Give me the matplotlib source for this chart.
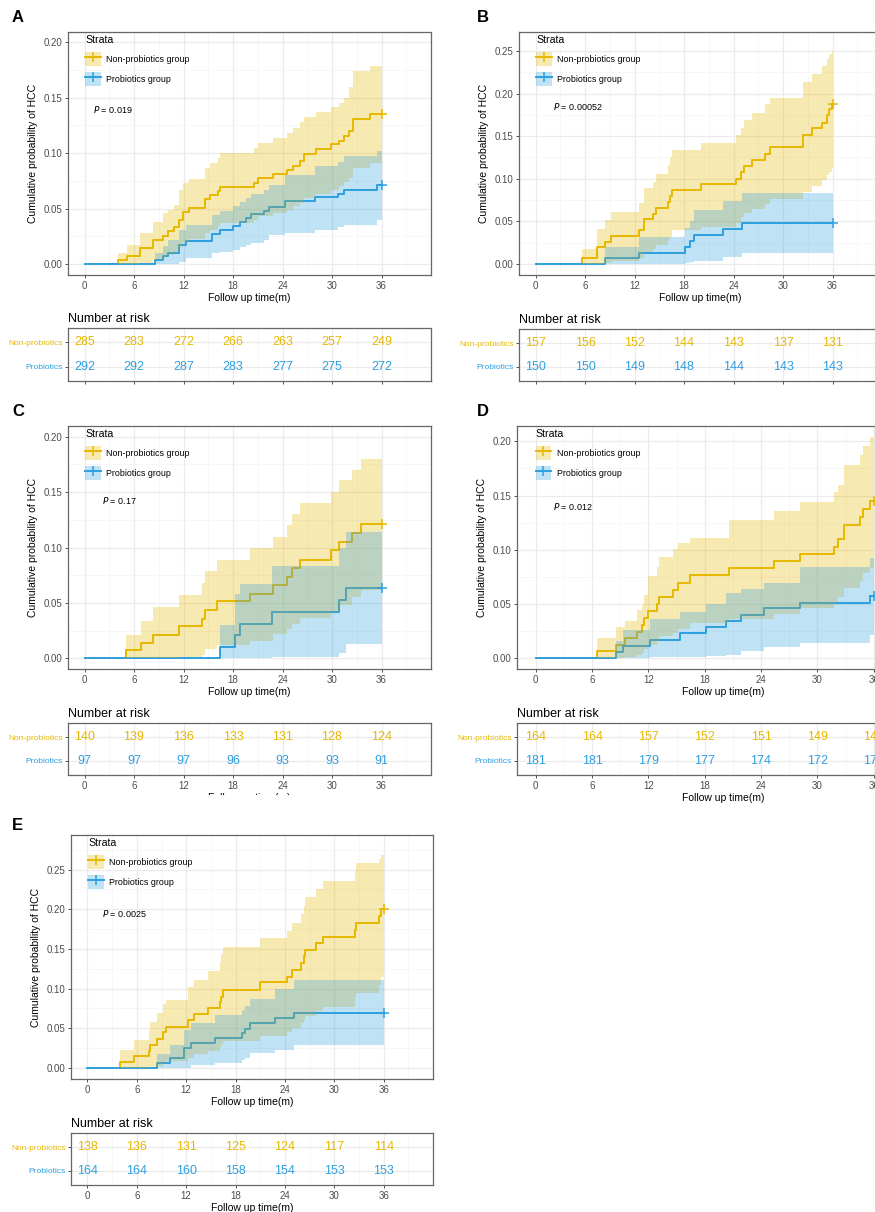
import numpy as np
import matplotlib.pyplot as plt
from matplotlib.patches import Patch, Rectangle
from matplotlib.lines import Line2D
from matplotlib.legend_handler import HandlerTuple

plt.rcParams['font.family'] = ['Liberation Sans', 'DejaVu Sans']

YEL = '#E7B800'
BLU = '#2E9FDF'

# ---------------- data ----------------
risk_times = [0, 6, 12, 18, 24, 30, 36]
groups = ['Non-probiotics group', 'Probiotics group']

# A
a_non_t = [4.0, 5.1, 6.7, 8.3, 9.5, 10.1, 10.9, 11.5, 11.9, 12.7, 14.6, 15.2, 16.2, 16.4, 20.6, 21.0,
           22.9, 24.5, 25.3, 26.1, 26.6, 28.1, 29.9, 30.9, 31.4, 32.0, 32.6, 34.6]
a_non_est = [0.0035, 0.0075, 0.0144, 0.0217, 0.0256, 0.0295, 0.0337, 0.040, 0.047, 0.0508, 0.0583, 0.0623,
             0.066, 0.0698, 0.0734, 0.0773, 0.0812, 0.0848, 0.0887, 0.0929, 0.0995, 0.1035, 0.108, 0.111,
             0.1155, 0.12, 0.131, 0.135]
a_non_hi = [0.0096, 0.017, 0.0277, 0.038, 0.0457, 0.049, 0.053, 0.0668, 0.0728, 0.0764, 0.0863, 0.0908,
            0.0953, 0.0998, 0.1044, 0.1089, 0.1134, 0.118, 0.1224, 0.128, 0.133, 0.1374, 0.1413, 0.145,
            0.150, 0.16, 0.1744, 0.179]
a_non_lo = [0, 0, 0.001, 0.004, 0.006, 0.008, 0.011, 0.015, 0.020, 0.023, 0.028, 0.031, 0.034, 0.037,
            0.040, 0.043, 0.046, 0.049, 0.052, 0.055, 0.060, 0.063, 0.067, 0.070, 0.074, 0.078, 0.087, 0.091]
a_pro_t = [8.5, 9.5, 10.1, 11.5, 12.3, 15.4, 16.4, 18.0, 18.8, 19.6, 20.2, 21.8, 22.4, 24.3, 27.9, 30.7,
           31.5, 35.4]
a_pro_est = [0.0034, 0.0069, 0.0103, 0.0172, 0.0206, 0.0275, 0.0309, 0.0344, 0.0378, 0.0413, 0.0447,
             0.0482, 0.0516, 0.0567, 0.0602, 0.0636, 0.0671, 0.0710]
a_pro_hi = [0.010, 0.016, 0.022, 0.031, 0.035, 0.044, 0.048, 0.052, 0.056, 0.060, 0.063, 0.067, 0.071,
            0.080, 0.088, 0.092, 0.097, 0.102]
a_pro_lo = [0, 0, 0, 0.002, 0.005, 0.0096, 0.011, 0.013, 0.015, 0.017, 0.019, 0.022, 0.026, 0.028,
            0.031, 0.033, 0.035, 0.040]
a_risk_non = [285, 283, 272, 266, 263, 257, 249]
a_risk_pro = [292, 292, 287, 283, 277, 275, 272]

# B
b_non_t = [5.6, 7.4, 8.4, 9.2, 12.6, 13.1, 14.3, 14.6, 16.1, 16.3, 16.5, 20.1, 24.3, 24.9, 25.3, 26.2,
           27.8, 28.4, 32.4, 33.5, 34.7, 35.3, 35.6, 35.9]
b_non_est = [0.0066, 0.0195, 0.026, 0.033, 0.040, 0.053, 0.059, 0.066, 0.073, 0.080, 0.087, 0.094, 0.100,
             0.108, 0.115, 0.122, 0.129, 0.137, 0.151, 0.159, 0.166, 0.175, 0.182, 0.188]
b_non_hi = [0.018, 0.041, 0.052, 0.061, 0.071, 0.089, 0.096, 0.106, 0.116, 0.125, 0.134, 0.142, 0.151,
            0.160, 0.169, 0.177, 0.1875, 0.195, 0.214, 0.223, 0.232, 0.241, 0.246, 0.25]
b_non_lo = [0, 0, 0.001, 0.004, 0.007, 0.014, 0.018, 0.022, 0.027, 0.032, 0.040, 0.044, 0.048, 0.055,
            0.060, 0.065, 0.070, 0.076, 0.084, 0.092, 0.098, 0.104, 0.108, 0.113]
b_pro_t = [8.4, 12.6, 18.1, 18.7, 19.2, 22.7, 25.0]
b_pro_est = [0.0067, 0.0134, 0.0201, 0.0268, 0.0336, 0.0410, 0.0484]
b_pro_hi = [0.0195, 0.032, 0.042, 0.050, 0.063, 0.074, 0.083]
b_pro_lo = [0, 0.0005, 0.001, 0.002, 0.004, 0.0086, 0.0125]
b_risk_non = [157, 156, 152, 144, 143, 137, 131]
b_risk_pro = [150, 150, 149, 148, 144, 143, 143]

# C
c_non_t = [5.0, 6.8, 8.3, 11.5, 14.3, 14.6, 16.1, 20.1, 22.9, 24.6, 25.1, 26.1, 29.9, 30.9, 32.4, 33.5]
c_non_est = [0.0072, 0.0142, 0.0214, 0.0289, 0.0358, 0.0434, 0.0515, 0.0584, 0.066, 0.0735, 0.0816,
             0.089, 0.0976, 0.105, 0.113, 0.121]
c_non_hi = [0.021, 0.034, 0.046, 0.057, 0.068, 0.0786, 0.089, 0.0997, 0.1096, 0.120, 0.130, 0.140,
            0.150, 0.161, 0.170, 0.180]
c_non_lo = [0, 0, 0, 0.001, 0.003, 0.008, 0.012, 0.016, 0.022, 0.026, 0.031, 0.036, 0.042, 0.048,
            0.055, 0.062]
c_pro_t = [16.4, 18.2, 18.8, 22.7, 30.9, 31.7]
c_pro_est = [0.0103, 0.0206, 0.031, 0.042, 0.0524, 0.0636]
c_pro_hi = [0.030, 0.058, 0.067, 0.083, 0.100, 0.114]
c_pro_lo = [0, 0, 0.0005, 0.001, 0.005, 0.0127]
c_risk_non = [140, 139, 136, 133, 131, 128, 124]
c_risk_pro = [97, 97, 97, 96, 93, 93, 91]

# D
d_non_t = [6.5, 8.6, 9.5, 10.8, 11.3, 11.5, 12.0, 12.9, 13.1, 14.6, 15.2, 16.4, 20.6, 25.4, 28.2, 31.8,
           32.2, 32.8, 34.5, 34.9, 35.6]
d_non_est = [0.0061, 0.0122, 0.0183, 0.0244, 0.0305, 0.0366, 0.0437, 0.050, 0.0566, 0.063, 0.0695,
             0.0766, 0.0828, 0.0895, 0.096, 0.1028, 0.1095, 0.123, 0.1305, 0.1375, 0.145]
d_non_hi = [0.018, 0.029, 0.034, 0.044, 0.049, 0.058, 0.0757, 0.084, 0.0935, 0.101, 0.106, 0.111, 0.127,
            0.136, 0.144, 0.153, 0.160, 0.178, 0.187, 0.196, 0.204]
d_non_lo = [0, 0, 0.001, 0.003, 0.005, 0.008, 0.012, 0.016, 0.020, 0.023, 0.027, 0.032, 0.036, 0.041,
            0.046, 0.051, 0.056, 0.065, 0.071, 0.078, 0.083]
d_pro_t = [8.6, 9.3, 12.2, 15.4, 18.1, 20.3, 21.9, 24.3, 28.1, 35.6]
d_pro_est = [0.0055, 0.011, 0.0166, 0.0228, 0.0283, 0.0345, 0.040, 0.0458, 0.051, 0.0575]
d_pro_hi = [0.016, 0.026, 0.036, 0.042, 0.050, 0.060, 0.064, 0.069, 0.084, 0.092]
d_pro_lo = [0, 0, 0.0005, 0.001, 0.0015, 0.003, 0.0065, 0.0105, 0.014, 0.021]
d_risk_non = [164, 164, 157, 152, 151, 149, 140]
d_risk_pro = [181, 181, 179, 177, 174, 172, 171]

# E
e_non_t = [4.0, 5.7, 7.5, 7.6, 8.4, 9.2, 9.5, 12.2, 13.0, 14.6, 16.1, 16.2, 16.5, 21.0, 24.3, 24.9, 26.0,
           26.3, 26.5, 27.8, 28.6, 32.5, 32.6, 35.4, 35.7]
e_non_est = [0.0072, 0.0145, 0.0217, 0.029, 0.0365, 0.045, 0.052, 0.060, 0.068, 0.0755, 0.0826, 0.090,
             0.0986, 0.1078, 0.115, 0.1237, 0.132, 0.1405, 0.149, 0.157, 0.1657, 0.174, 0.1825, 0.1917, 0.200]
e_non_hi = [0.022, 0.035, 0.048, 0.058, 0.069, 0.081, 0.085, 0.1015, 0.111, 0.1216, 0.133, 0.1434, 0.153,
            0.1636, 0.173, 0.183, 0.194, 0.204, 0.215, 0.2257, 0.236, 0.248, 0.258, 0.264, 0.268]
e_non_lo = [0, 0, 0, 0.001, 0.003, 0.006, 0.009, 0.013, 0.017, 0.021, 0.025, 0.029, 0.034, 0.040, 0.045,
            0.050, 0.056, 0.061, 0.066, 0.072, 0.077, 0.088, 0.094, 0.104, 0.115]
e_pro_t = [8.4, 10.0, 11.7, 12.6, 15.5, 18.8, 19.1, 19.7, 22.8, 25.1]
e_pro_est = [0.0061, 0.0126, 0.025, 0.0315, 0.0377, 0.044, 0.0495, 0.0566, 0.063, 0.0696]
e_pro_hi = [0.018, 0.029, 0.048, 0.057, 0.067, 0.073, 0.078, 0.087, 0.100, 0.111]
e_pro_lo = [0, 0, 0, 0.004, 0.006, 0.010, 0.013, 0.019, 0.022, 0.0285]
e_risk_non = [138, 136, 131, 125, 124, 117, 114]
e_risk_pro = [164, 164, 160, 158, 154, 153, 153]

pvals = {'A': '0.019', 'B': '0.00052', 'C': '0.17', 'D': '0.012', 'E': '0.0025'}

# ---------------- layout (pixels in a 875x1212 canvas) ----------------
W, H = 875, 1212

def box(l, t, r, b):
    return [l / W, 1 - b / H, (r - l) / W, (b - t) / H]

layout = [
    dict(key='A', letter=(12, 18), main=(68, 32, 431, 275), risk=(68, 328, 431, 381),
         ylim=(-0.0099, 0.2093), ymax=0.20, pv=(0.069, 0.68), ticklab=False, rlabel=False),
    dict(key='B', letter=(477, 18), main=(519, 32, 882, 275), risk=(519, 329, 882, 381),
         ylim=(-0.0129, 0.2722), ymax=0.25, pv=(0.094, 0.695), ticklab=False, rlabel=False),
    dict(key='C', letter=(12, 412), main=(68, 426, 431, 669), risk=(68, 723, 431, 775),
         ylim=(-0.0097, 0.2097), ymax=0.20, pv=(0.093, 0.692), ticklab=True, rlabel=True),
    dict(key='D', letter=(477, 412), main=(517, 426, 930, 669), risk=(517, 723, 930, 775),
         ylim=(-0.0102, 0.2142), ymax=0.20, pv=(0.086, 0.667), ticklab=True, rlabel=True),
    dict(key='E', letter=(12, 825), main=(71, 835, 433, 1079), risk=(71, 1133, 433, 1185),
         ylim=(-0.014, 0.2937), ymax=0.25, pv=(0.085, 0.68), ticklab=True, rlabel=True),
]

curves = {
    'A': ((a_non_t, a_non_est, a_non_lo, a_non_hi), (a_pro_t, a_pro_est, a_pro_lo, a_pro_hi), a_risk_non, a_risk_pro),
    'B': ((b_non_t, b_non_est, b_non_lo, b_non_hi), (b_pro_t, b_pro_est, b_pro_lo, b_pro_hi), b_risk_non, b_risk_pro),
    'C': ((c_non_t, c_non_est, c_non_lo, c_non_hi), (c_pro_t, c_pro_est, c_pro_lo, c_pro_hi), c_risk_non, c_risk_pro),
    'D': ((d_non_t, d_non_est, d_non_lo, d_non_hi), (d_pro_t, d_pro_est, d_pro_lo, d_pro_hi), d_risk_non, d_risk_pro),
    'E': ((e_non_t, e_non_est, e_non_lo, e_non_hi), (e_pro_t, e_pro_est, e_pro_lo, e_pro_hi), e_risk_non, e_risk_pro),
}


def base_style(ax):
    ax.set_xlim(-2, 42)
    ax.set_xticks(np.arange(0, 37, 6))
    ax.set_xticks(np.arange(3, 40, 6), minor=True)
    ax.grid(which='major', color='#EBEBEB', lw=0.9)
    ax.grid(which='minor', color='#F4F4F4', lw=0.5)
    ax.set_axisbelow(True)
    for s in ax.spines.values():
        s.set_color('#666666')
        s.set_linewidth(0.9)
    ax.tick_params(which='minor', length=0)
    ax.tick_params(which='major', length=2.5, width=0.6, color='#333333',
                   labelsize=7, labelcolor='#4D4D4D', pad=1.5)


def draw_curve(ax, t, est, lo, hi, color):
    tt = np.r_[0, t, 36]
    ee = np.r_[0, est, est[-1]]
    ll = np.r_[0, lo, lo[-1]]
    hh = np.r_[0, hi, hi[-1]]
    ax.step(tt, ee, where='post', color=color, lw=1.4, zorder=2)
    ax.fill_between(tt, ll, hh, step='post', color=color, alpha=0.3, lw=0, zorder=3)
    ax.plot([36], [est[-1]], marker='+', ms=7, mew=1.1, color=color, zorder=4)


fig = plt.figure(figsize=(8.75, 12.12), dpi=100)

for p in layout:
    k = p['key']
    non, pro, rnon, rpro = curves[k]

    ax = fig.add_axes(box(*p['main']))
    base_style(ax)
    ax.set_ylim(*p['ylim'])
    yt = np.arange(0, p['ymax'] + 0.001, 0.05)
    ax.set_yticks(yt)
    ax.set_yticklabels(['%.2f' % v for v in yt])
    ax.set_yticks(np.arange(0.025, p['ylim'][1], 0.05), minor=True)

    draw_curve(ax, *non, YEL)
    draw_curve(ax, *pro, BLU)

    ax.set_xlabel('Follow up time(m)', fontsize=7.5, labelpad=1.5)
    ax.set_ylabel('Cumulative probability of HCC', fontsize=7.5, labelpad=4)
    ax.text(p['pv'][0], p['pv'][1], '$P$ = ' + pvals[k], transform=ax.transAxes,
            fontsize=6.5, va='center', ha='left')

    handles = []
    for c in (YEL, BLU):
        handles.append((Patch(facecolor=c, alpha=0.3, edgecolor='none'),
                        Line2D([], [], color=c, lw=1.4, marker='+', ms=7, mew=1.1)))
    ax.legend(handles, groups, title='Strata', handler_map={tuple: HandlerTuple(ndivide=1, pad=0)},
              loc='upper left', bbox_to_anchor=(0.03, 1.012), frameon=False, fontsize=6.4,
              title_fontsize=7.6, handlelength=1.75, handleheight=2.0, labelspacing=0.75,
              handletextpad=0.6, borderpad=0.2, alignment='left')

    fig.text(p['letter'][0] / W, 1 - p['letter'][1] / H, k, fontsize=12, fontweight='bold',
             ha='left', va='center')

    # risk table
    axr = fig.add_axes(box(*p['risk']))
    base_style(axr)
    axr.set_ylim(-0.6, 1.6)
    axr.set_yticks([0, 1])
    axr.set_yticklabels(['Probiotics', 'Non-probiotics'])
    for lab, c in zip(axr.get_yticklabels(), (BLU, YEL)):
        lab.set_color(c)
        lab.set_fontsize(6)
    for x, n1, n2 in zip(risk_times, rnon, rpro):
        axr.text(x, 1, str(n1), ha='center', va='center', color=YEL, fontsize=9)
        axr.text(x, 0, str(n2), ha='center', va='center', color=BLU, fontsize=9)
    axr.set_title('Number at risk', loc='left', fontsize=9, pad=4)
    if p['ticklab']:
        axr.tick_params(axis='x', labelsize=7)
    else:
        axr.tick_params(axis='x', labelbottom=False)
    if p['rlabel']:
        axr.set_xlabel('Follow up time(m)', fontsize=7.5, labelpad=1.5)

# panel C's bottom label is clipped by the panel below in the original
fig.patches.append(Rectangle((0, 1 - 806 / H), 440 / W, 11 / H, transform=fig.transFigure,
                             facecolor='white', edgecolor='none', zorder=10))

fig.savefig('out.png', dpi=100)
